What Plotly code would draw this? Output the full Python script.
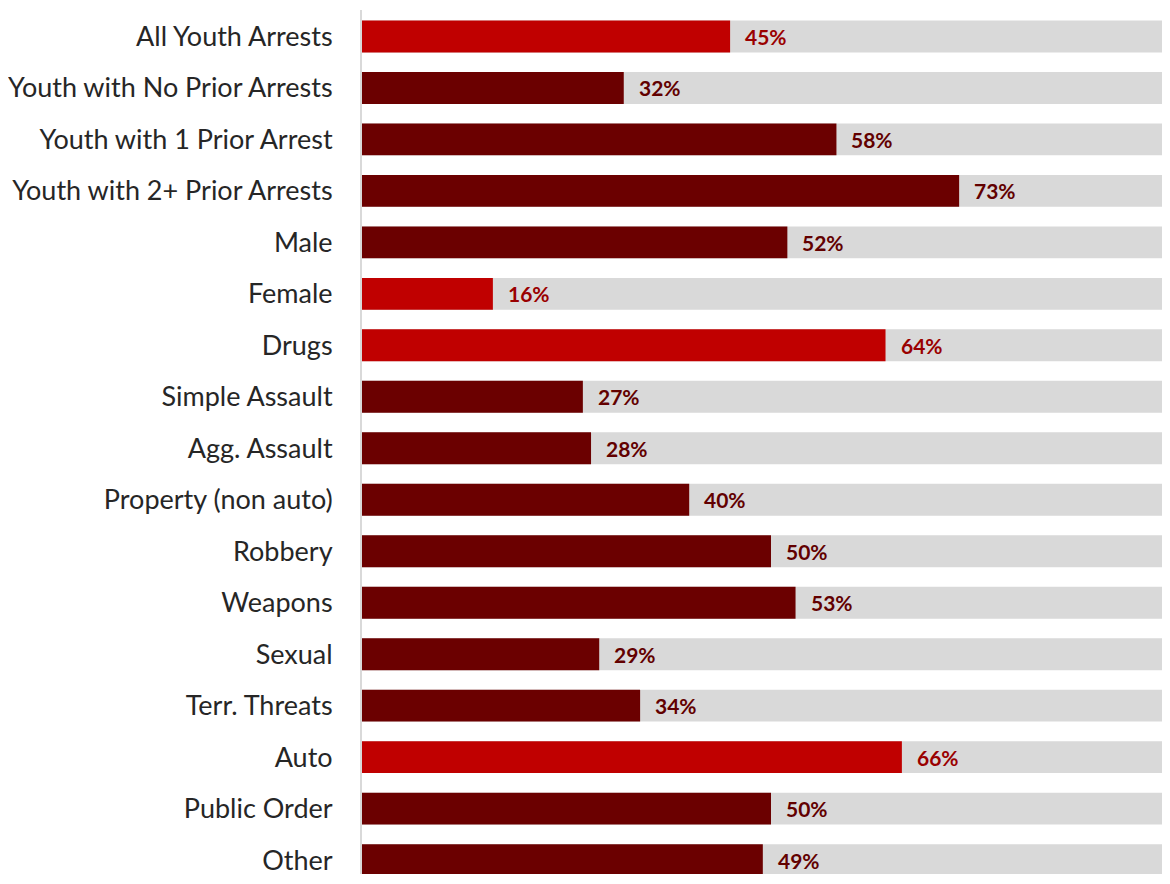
import plotly.graph_objects as go

categories = [
    "All Youth Arrests", "Youth with No Prior Arrests", "Youth with 1 Prior Arrest",
    "Youth with 2+ Prior Arrests", "Male", "Female", "Drugs", "Simple Assault",
    "Agg. Assault", "Property (non auto)", "Robbery", "Weapons", "Sexual",
    "Terr. Threats", "Auto", "Public Order", "Other",
]
values = [45, 32, 58, 73, 52, 16, 64, 27, 28, 40, 50, 53, 29, 34, 66, 50, 49]
highlight = [True, False, False, False, False, True, True, False, False, False,
             False, False, False, False, True, False, False]
full = [100] * len(categories)

BRIGHT = "#C00000"
DARK = "#6B0000"
GRAY = "#D9D9D9"
LABEL_BRIGHT = "#9A0000"
LABEL_DARK = "#620000"

colors = [BRIGHT if h else DARK for h in highlight]
label_colors = [LABEL_BRIGHT if h else LABEL_DARK for h in highlight]

fig = go.Figure()
fig.add_trace(go.Bar(y=categories, x=full, orientation="h", width=0.62,
                     marker=dict(color=GRAY, line=dict(width=0)),
                     hoverinfo="skip", showlegend=False))
fig.add_trace(go.Bar(y=categories, x=values, orientation="h", width=0.62,
                     marker=dict(color=colors, line=dict(width=0)),
                     showlegend=False))

for c, v, lc in zip(categories, values, label_colors):
    fig.add_annotation(x=v, y=c, text=f"<b>{v}%</b>", showarrow=False,
                       xanchor="left", yanchor="middle", xshift=13,
                       font=dict(family="Lato, Open Sans, sans-serif", size=21, color=lc))

fig.update_layout(
    width=1154, height=868,
    margin=dict(l=352, r=0, t=2, b=0),
    barmode="overlay",
    plot_bgcolor="white", paper_bgcolor="white",
    xaxis=dict(range=[0, 97.8], showgrid=False, showticklabels=False,
               zeroline=False, showline=False, fixedrange=True),
    yaxis=dict(categoryorder="array", categoryarray=categories,
               range=[16.27, -0.5136], showgrid=False, zeroline=False,
               showline=True, linecolor=GRAY, linewidth=2,
               ticks="", ticklabelstandoff=22,
               tickfont=dict(family="Lato, Open Sans, sans-serif", size=27, color="#262626")),
)

fig.write_html("out.html")
